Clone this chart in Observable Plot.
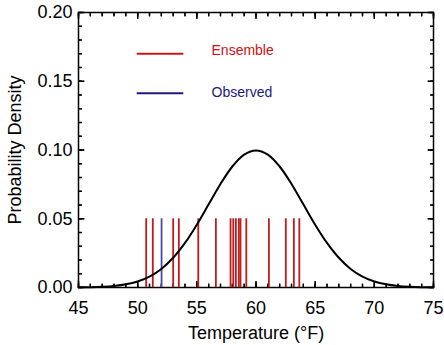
<!DOCTYPE html>
<html>
<head>
<meta charset="utf-8">
<script src="https://cdn.jsdelivr.net/npm/d3@7"></script>
<script src="https://cdn.jsdelivr.net/npm/@observablehq/plot@0.6"></script>
<style>
  html, body { margin: 0; padding: 0; background: #fff; }
  #chart { width: 444px; height: 345px; }
</style>
</head>
<body>
<div id="chart"></div>
<script>
// ---- data ----
const curveTemp = [45,46,47,48,49,50,51,52,53,54,55,56,57,58,59,60,61,62,63,64,65,66,67,68,69,70,71,72,73,74,75];
const curveDensity = [0.0001,0.0002,0.0005,0.0011,0.0023,0.0044,0.0079,0.0135,0.0216,0.0324,0.0457,0.0605,0.0753,0.0880,0.0967,0.0997,0.0967,0.0880,0.0753,0.0605,0.0457,0.0324,0.0216,0.0135,0.0079,0.0044,0.0023,0.0011,0.0005,0.0002,0.0001];
const ensembleTemps = [50.72, 51.28, 53.0, 53.48, 55.12, 56.61, 57.85, 58.08, 58.30, 58.55, 58.69, 59.18, 61.09, 62.52, 63.2, 63.66];
const observedTemps = [52.02];
const stickHeight = 0.05;
const xTicks = [45, 50, 55, 60, 65, 70, 75];
const yTicks = [0, 0.05, 0.10, 0.15, 0.20];
const xMinor = [45,46,47,48,49,50,51,52,53,54,55,56,57,58,59,60,61,62,63,64,65,66,67,68,69,70,71,72,73,74,75];
const yMinor = [0,0.01,0.02,0.03,0.04,0.05,0.06,0.07,0.08,0.09,0.10,0.11,0.12,0.13,0.14,0.15,0.16,0.17,0.18,0.19,0.20];
const legendLabels = ["Ensemble", "Observed"];
const xLabel = "Temperature (°F)";
const yLabel = "Probability Density";

const xDomain = [45, 75], yDomain = [0, 0.2];
const W = 444, H = 345, ML = 78, MR = 11, MT = 12, MB = 58;
const FW = W - ML - MR, FH = H - MT - MB;
const px2x = p => p * (xDomain[1] - xDomain[0]) / FW;
const px2y = p => p * (yDomain[1] - yDomain[0]) / FH;
const minorLen = 3.5, majorLen = 6;

const red = "#c01c1c";
const blue = "#1a1a80";
const font = "'Liberation Sans', Arial, sans-serif";

const curve = curveTemp.map((t, i) => ({t, d: curveDensity[i]}));

// inward ticks on all four sides of the box (links in data space)
function boxTicks(xs, ys, len) {
  const tx = px2x(len), ty = px2y(len);
  const bx = xs.map(x => ({x, a: yDomain[0], b: yDomain[0] + ty}))
    .concat(xs.map(x => ({x, a: yDomain[1] - ty, b: yDomain[1]})));
  const by = ys.map(y => ({y, a: xDomain[0], b: xDomain[0] + tx}))
    .concat(ys.map(y => ({y, a: xDomain[1] - tx, b: xDomain[1]})));
  return [
    Plot.link(bx, {x1: "x", x2: "x", y1: "a", y2: "b", stroke: "#000", strokeWidth: 1.3}),
    Plot.link(by, {y1: "y", y2: "y", x1: "a", x2: "b", stroke: "#000", strokeWidth: 1.3})
  ];
}

// the same inward ticks via Plot axes shifted into the frame
function axisTicks(xs, ys, len) {
  const none = () => "";
  return [
    Plot.axisX({anchor: "bottom", ticks: xs, tickSize: len, dy: -len, tickFormat: none, label: null, strokeWidth: 1.3}),
    Plot.axisX({anchor: "top", ticks: xs, tickSize: len, dy: len, tickFormat: none, label: null, strokeWidth: 1.3}),
    Plot.axisY({anchor: "left", ticks: ys, tickSize: len, dx: len, tickFormat: none, label: null, strokeWidth: 1.3}),
    Plot.axisY({anchor: "right", ticks: ys, tickSize: len, dx: -len, tickFormat: none, label: null, strokeWidth: 1.3})
  ];
}

const chart = Plot.plot({
  width: W,
  height: H,
  marginLeft: ML,
  marginRight: MR,
  marginTop: MT,
  marginBottom: MB,
  style: {fontFamily: font, background: "#fff", color: "#000"},
  x: {domain: xDomain},
  y: {domain: yDomain},
  marks: [
    Plot.frame({stroke: "#000", strokeWidth: 1.5}),
    ...axisTicks(xMinor, yMinor, minorLen),
    ...axisTicks(xTicks, yTicks, majorLen),
    ...boxTicks(xMinor, yMinor, minorLen),
    ...boxTicks(xTicks, yTicks, majorLen),
    // tick labels and axis titles
    Plot.axisX({anchor: "bottom", ticks: xTicks, tickSize: 0, tickPadding: 14, fontSize: 18,
      tickFormat: d => String(d), label: xLabel, labelAnchor: "center", labelOffset: 51, labelArrow: "none"}),
    Plot.axisY({anchor: "left", ticks: yTicks, tickSize: 0, tickPadding: 6, fontSize: 18,
      tickFormat: d3.format(".2f"), label: yLabel, labelAnchor: "center", labelOffset: 70, labelArrow: "none"}),
    // ensemble and observed sticks
    Plot.ruleX(ensembleTemps, {x: d => d, y1: 0, y2: stickHeight, stroke: red, strokeWidth: 1.8}),
    Plot.ruleX(observedTemps, {x: d => d, y1: 0, y2: stickHeight, stroke: "#4848b0", strokeWidth: 1.8}),
    // density curve
    Plot.line(curve, {x: "t", y: "d", curve: "catmull-rom", stroke: "#000", strokeWidth: 2}),
    // legend
    Plot.ruleY([0.170], {x1: 49.96, x2: 53.9, stroke: red, strokeWidth: 2}),
    Plot.ruleY([0.1413], {x1: 49.96, x2: 53.9, stroke: blue, strokeWidth: 2}),
    Plot.text([legendLabels[0]], {x: 56.24, y: 0.172, text: d => d, textAnchor: "start", fill: "#d01010", fontSize: 14}),
    Plot.text([legendLabels[1]], {x: 56.24, y: 0.1421, text: d => d, textAnchor: "start", fill: blue, fontSize: 14})
  ]
});
document.getElementById("chart").appendChild(chart);
</script>
</body>
</html>
